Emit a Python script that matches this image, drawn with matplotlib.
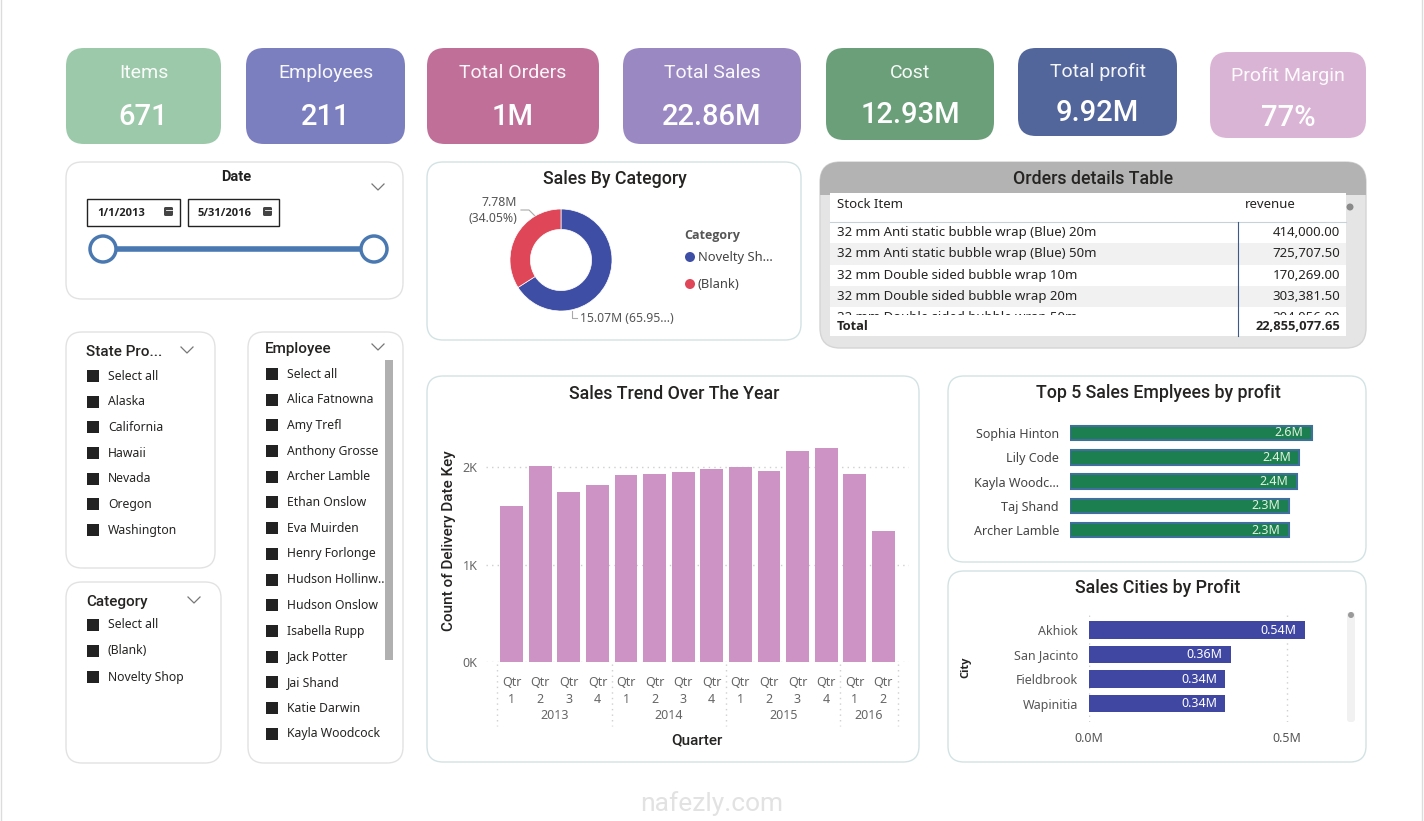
import matplotlib.pyplot as plt
from matplotlib.patches import FancyBboxPatch, Rectangle, Circle
from matplotlib.transforms import blended_transform_factory

W, H = 1424, 821

# ---- data ----
kpi_titles = ["Items", "Employees", "Total Orders", "Total Sales", "Cost", "Total profit", "Profit Margin"]
kpi_values = ["671", "211", "1M", "22.86M", "12.93M", "9.92M", "77%"]
kpi_colors = ["#9cc9aa", "#7c7fbf", "#c06f98", "#9a88c3", "#6b9f7a", "#52669c", "#dab4d5"]

category_names = ["Novelty Shop", "(Blank)"]
category_sales = [15.07, 7.78]  # millions

quarter_labels = ["Qtr\n1", "Qtr\n2", "Qtr\n3", "Qtr\n4"] * 3 + ["Qtr\n1", "Qtr\n2"]
quarter_years = [2013] * 4 + [2014] * 4 + [2015] * 4 + [2016] * 2
delivery_counts = [1600, 2010, 1745, 1820, 1915, 1925, 1945, 1975, 1995, 1960, 2160, 2200, 1925, 1340]

top_employees = ["Sophia Hinton", "Lily Code", "Kayla Woodc...", "Taj Shand", "Archer Lamble"]
employee_profit = [2.56, 2.43, 2.40, 2.32, 2.32]  # millions

cities = ["Akhiok", "San Jacinto", "Fieldbrook", "Wapinitia"]
city_profit = [0.544, 0.357, 0.344, 0.344]  # millions

stock_items = ["32 mm Anti static bubble wrap (Blue) 20m",
               "32 mm Anti static bubble wrap (Blue) 50m",
               "32 mm Double sided bubble wrap 10m",
               "32 mm Double sided bubble wrap 20m",
               "32 mm Double sided bubble wrap 50m"]
revenue = [414000.00, 725707.50, 170269.00, 303381.50, 304056.00]
revenue_total = 22855077.65

states = ["Select all", "Alaska", "California", "Hawaii", "Nevada", "Oregon", "Washington"]
employees = ["Select all", "Alica Fatnowna", "Amy Trefl", "Anthony Grosse", "Archer Lamble",
             "Ethan Onslow", "Eva Muirden", "Henry Forlonge", "Hudson Hollinw..", "Hudson Onslow",
             "Isabella Rupp", "Jack Potter", "Jai Shand", "Katie Darwin", "Kayla Woodcock"]
categories = ["Select all", "(Blank)", "Novelty Shop"]
date_range = ["1/1/2013", "5/31/2016"]

# ---- layout ----
kpi_boxes = [(66, 48, 221, 144), (246, 48, 405, 144), (427, 48, 599, 144), (623, 48, 801, 144),
             (826, 48, 994, 140), (1018, 48, 1177, 136), (1210, 52, 1366, 138)]

TITLE = "Roboto"
BODY = "Noto Sans"
BOLD = "Open Sans"
PANEL_EC = "#d3e2e2"
TSIZE = 12.8

fig = plt.figure(figsize=(W / 100, H / 100), dpi=100)
base = fig.add_axes([0, 0, 1, 1])
base.set_xlim(0, W)
base.set_ylim(H, 0)
base.axis("off")


def rbox(x0, y0, x1, y1, fc="white", ec=PANEL_EC, r=16, lw=1.0, z=1):
    p = FancyBboxPatch((x0, y0), x1 - x0, y1 - y0, boxstyle=f"round,pad=0,rounding_size={r}",
                       fc=fc, ec=ec, lw=lw, zorder=z)
    base.add_patch(p)
    return p


def px_axes(x0, y0, x1, y1):
    ax = fig.add_axes([x0 / W, 1 - y1 / H, (x1 - x0) / W, (y1 - y0) / H])
    ax.set_facecolor("none")
    return ax


def chevron(x, y):
    base.plot([x - 6, x, x + 6], [y - 3, y + 3, y - 3], color="#777777", lw=0.9, zorder=3)


# outer frame
base.add_patch(Rectangle((1, -5), W - 3, H + 10, fc="none", ec="#dcdcdc", lw=1))

# ---- KPI cards ----
for (x0, y0, x1, y1), t, v, c in zip(kpi_boxes, kpi_titles, kpi_values, kpi_colors):
    rbox(x0, y0, x1, y1, fc=c, ec="none", r=18)
    cx = (x0 + x1) / 2
    shrink = (144 - y1) * 0.5
    base.text(cx, y0 + 25 - shrink * 0.2, t, ha="center", va="center", color="white", fontsize=14,
              family=TITLE, alpha=0.95, zorder=3)
    base.text(cx, y0 + 69 - shrink, v, ha="center", va="center", color="white",
              fontsize=21, family=TITLE, weight="medium", zorder=3)

# ---- Date slicer ----
rbox(66, 162, 403, 299, ec="#e2e2e2")
base.text(236, 177, "Date", ha="center", va="center", fontsize=10.5, family=TITLE, weight="bold",
          color="#222222", zorder=3)
chevron(378, 187)
for (bx, bw), d in zip([(87, 93), (188, 91)], date_range):
    base.add_patch(Rectangle((bx, 199), bw, 27, fc="white", ec="#222222", lw=1, zorder=3))
    base.text(bx + 10, 213, d, ha="left", va="center", fontsize=8, family=BOLD, weight="bold",
              color="#222222", zorder=4)
    base.add_patch(FancyBboxPatch((bx + bw - 16, 207), 9, 9, boxstyle="round,pad=0,rounding_size=1.5",
                                  fc="#444444", ec="none", zorder=4))
    base.plot([bx + bw - 14.5, bx + bw - 8.5], [210, 210], color="white", lw=0.6, zorder=5)
base.plot([103, 374], [249, 249], color="#4a79b2", lw=4, zorder=3, solid_capstyle="butt")
for cx in (103, 374):
    base.add_patch(Circle((cx, 249), 13, fc="white", ec="#4a79b2", lw=2.5, zorder=4))


# ---- list slicers ----
def slicer(x0, y0, x1, y1, title, items, ty, iy0, step, chev_x, box_dx=21, scroll=None):
    rbox(x0, y0, x1, y1, ec="#e2e2e2")
    base.text(x0 + box_dx - 1, ty, title, ha="left", va="center", fontsize=11, family=TITLE,
              weight="medium", color="#252423", zorder=3)
    chevron(chev_x, ty - 2)
    for i, name in enumerate(items):
        y = iy0 + step * i
        base.add_patch(Rectangle((x0 + box_dx, y - 6), 12, 12, fc="#222222", ec="none", zorder=3))
        base.text(x0 + box_dx + 21, y, name, ha="left", va="center", fontsize=8.8, family=BODY,
                  color="#252423", zorder=3)
    if scroll:
        base.add_patch(Rectangle((scroll[0], scroll[1]), 8, scroll[2] - scroll[1], fc="#b0b0b0",
                                 ec="none", zorder=4))


slicer(66, 332, 215, 568, "State Pro...", states, 352, 376, 25.7, 187)
slicer(248, 332, 403, 763, "Employee", employees, 349, 374, 25.7, 378, box_dx=18,
       scroll=(385, 360, 660))
slicer(66, 582, 221, 763, "Category", categories, 602, 625, 26, 194)

# ---- Sales by category (donut) ----
rbox(427, 162, 801, 340)
base.text(615, 179, "Sales By Category", ha="center", va="center", fontsize=TSIZE, family=TITLE,
          weight="medium", color="#252423", zorder=3)
donut_colors = ["#3f4ea5", "#df4657"]
ax_d = px_axes(510, 209, 612, 311)
ax_d.pie(category_sales, colors=donut_colors, startangle=90, counterclock=False, radius=1,
         wedgeprops=dict(width=0.4, edgecolor="white", linewidth=0.5))
ax_d.set_xlim(-1, 1)
ax_d.set_ylim(-1, 1)
ax_d.set_aspect("equal")
ax_d.axis("off")
total_sales = sum(category_sales)
blank_lbl = f"{category_sales[1]:.2f}M\n({category_sales[1] / total_sales * 100:.2f}%)"
nov_lbl = f"{category_sales[0]:.2f}M ({category_sales[0] / total_sales * 100:.2f}%)"
nov_lbl = nov_lbl[:-2] + "...)"
base.text(517, 211, blank_lbl, ha="right", va="center", fontsize=8.8, family=BODY,
          color="#555555", linespacing=1.3, zorder=3)
base.plot([521, 529, 535], [210, 210, 216], color="#aaaaaa", lw=0.8, zorder=3)
base.text(580, 318, nov_lbl, ha="left", va="center", fontsize=8.8, family=BODY,
          color="#555555", zorder=3)
base.plot([572, 572, 577], [311, 318, 318], color="#aaaaaa", lw=0.8, zorder=3)
base.text(684, 235, "Category", ha="left", va="center", fontsize=9, family=BOLD, weight="bold",
          color="#555555", zorder=3)
for i, (name, c) in enumerate(zip(["Novelty Sh...", "(Blank)"], donut_colors)):
    y = 257 + 27 * i
    base.add_patch(Circle((690, y), 5, fc=c, ec="none", zorder=3))
    base.text(698, y, name, ha="left", va="center", fontsize=9.3, family=BODY, color="#444444", zorder=3)

# ---- Orders details table ----
outer = rbox(820, 162, 1366, 348, fc="#e5e5e5", ec="#d5d5d5", r=20)
hdr = Rectangle((820, 160), 546, 35, fc="#b3b3b3", ec="none", zorder=1.5)
base.add_patch(hdr)
hdr.set_clip_path(outer)
base.text(1093, 179, "Orders details Table", ha="center", va="center", fontsize=TSIZE, family=TITLE,
          weight="medium", color="#252423", zorder=3)
base.add_patch(Rectangle((830, 193), 516, 143, fc="white", ec="none", zorder=2))
base.text(837, 205, "Stock Item", ha="left", va="center", fontsize=9.5, family=BODY, color="#252423", zorder=3)
base.text(1245, 205, "revenue", ha="left", va="center", fontsize=9.5, family=BODY, color="#252423", zorder=3)
base.plot([830, 1346], [222, 222], color="#c8d0d8", lw=0.8, zorder=3)
row_h = 21.3
for i, (item, rev) in enumerate(zip(stock_items, revenue)):
    top = 222 + row_h * i
    if i % 2 == 1:
        base.add_patch(Rectangle((830, top), 516, row_h, fc="#f1f1f1", ec="none", zorder=2.5))
    base.text(837, top + row_h / 2, item, ha="left", va="center", fontsize=9.5, family=BODY,
              color="#252423", zorder=3)
    base.text(1340, top + row_h / 2, f"{rev:,.2f}", ha="right", va="center", fontsize=9.5, family=BODY,
              color="#252423", zorder=3)
base.add_patch(Rectangle((830, 315), 516, 21, fc="white", ec="none", zorder=4))
base.text(837, 326, "Total", ha="left", va="center", fontsize=9.3, family=BOLD, weight="bold",
          color="#252423", zorder=5)
base.text(1340, 326, f"{revenue_total:,.2f}", ha="right", va="center", fontsize=9.3, family=BOLD,
          weight="bold", color="#252423", zorder=5)
base.plot([1238, 1238], [222, 336], color="#3d5a86", lw=0.8, zorder=6)
base.add_patch(Circle((1350, 207), 3.5, fc="#8a8a8a", ec="none", zorder=3))

# ---- Sales trend bar chart ----
rbox(427, 376, 919, 762)
base.text(674, 394, "Sales Trend Over The Year", ha="center", va="center", fontsize=TSIZE, family=TITLE,
          weight="medium", color="#252423", zorder=3)
ax_b = px_axes(486, 440, 909, 662)
xs = list(range(len(delivery_counts)))
ax_b.bar(xs, delivery_counts, width=0.8, color="#cc93c4", zorder=2)
ax_b.set_xlim(-0.9, len(xs) - 0.1)
ax_b.set_ylim(0, 2277)
ax_b.set_yticks([0, 1000, 2000])
ax_b.set_yticklabels(["0K", "1K", "2K"])
ax_b.set_xticks(xs)
ax_b.set_xticklabels(quarter_labels, linespacing=1.4)
ax_b.tick_params(axis="both", length=0, labelsize=9, labelcolor="#666666")
ax_b.tick_params(axis="x", pad=10)
ax_b.tick_params(axis="y", pad=6)
for lab in ax_b.get_xticklabels() + ax_b.get_yticklabels():
    lab.set_family(BODY)
ax_b.grid(axis="y", color="#cfcfcf", linestyle=(0, (1, 3)), lw=1, zorder=0)
for s in ax_b.spines.values():
    s.set_visible(False)
tr = blended_transform_factory(ax_b.transData, ax_b.transAxes)
years = sorted(set(quarter_years))
for yr in years:
    idx = [i for i, q in enumerate(quarter_years) if q == yr]
    ax_b.text(sum(idx) / len(idx), -0.24, str(yr), transform=tr, ha="center", va="center",
              fontsize=9, family=BODY, color="#666666")
bounds = [-0.5] + [max(i for i, q in enumerate(quarter_years) if q == yr) + 0.5 for yr in years]
for b in bounds:
    ax_b.plot([b, b], [-0.01, -0.29], transform=tr, color="#cfcfcf", linestyle=(0, (1, 3)),
              lw=1, clip_on=False)
ax_b.text(-0.087, 0.545, "Count of Delivery Date Key", transform=ax_b.transAxes, rotation=90,
          ha="center", va="center", fontsize=11, family=TITLE, weight="medium", color="#252423")
ax_b.text(0.499, -0.351, "Quarter", transform=ax_b.transAxes, ha="center", va="center",
          fontsize=11, family=TITLE, weight="medium", color="#252423")

# ---- Top 5 employees ----
rbox(948, 376, 1366, 562)
base.text(1158, 393, "Top 5 Sales Emplyees by profit", ha="center", va="center", fontsize=TSIZE,
          family=TITLE, weight="medium", color="#252423", zorder=3)
ax_e = px_axes(1070, 418, 1349, 545)
ys = list(range(len(top_employees)))
ax_e.barh(ys, employee_profit, height=0.6, color="#1b7f4f", edgecolor="#3f6f9d", lw=1.5)
ax_e.set_xlim(0, 2.955)
ax_e.set_ylim(4.61, -0.617)
ax_e.set_yticks(ys)
ax_e.set_yticklabels(top_employees)
ax_e.set_xticks([])
ax_e.tick_params(axis="y", length=0, pad=8, labelsize=9, labelcolor="#444444")
for lab in ax_e.get_yticklabels():
    lab.set_family(BODY)
for s in ax_e.spines.values():
    s.set_visible(False)
for y, v in zip(ys, employee_profit):
    ax_e.annotate(f"{v:.1f}M", (v, y), xytext=(-6, 0), textcoords="offset points", ha="right",
                  va="center", fontsize=9, family=BODY, color="#dff2df")

# ---- Sales cities ----
rbox(948, 571, 1366, 762)
base.text(1158, 588, "Sales Cities by Profit", ha="center", va="center", fontsize=TSIZE,
          family=TITLE, weight="medium", color="#252423", zorder=3)
ax_c = px_axes(1089, 612, 1340, 722)
yc = list(range(len(cities)))
ax_c.barh(yc, city_profit, height=0.72, color="#3f47a3", zorder=2)
ax_c.set_xlim(0, 0.633)
ax_c.set_ylim(3.755, -0.735)
ax_c.set_yticks(yc)
ax_c.set_yticklabels(cities)
ax_c.set_xticks([0, 0.5])
ax_c.set_xticklabels(["0.0M", "0.5M"])
ax_c.tick_params(axis="both", length=0, labelsize=9, labelcolor="#555555")
ax_c.tick_params(axis="y", pad=8)
ax_c.tick_params(axis="x", pad=7)
for lab in ax_c.get_xticklabels() + ax_c.get_yticklabels():
    lab.set_family(BODY)
ax_c.grid(axis="x", color="#cfcfcf", linestyle=(0, (1, 3)), lw=1, zorder=0)
for s in ax_c.spines.values():
    s.set_visible(False)
for y, v in zip(yc, city_profit):
    ax_c.annotate(f"{v:.2f}M", (v, y), xytext=(-6, 0), textcoords="offset points", ha="right",
                  va="center", fontsize=9, family=BODY, color="white", zorder=3)
base.text(966, 667, "City", rotation=90, ha="center", va="center", fontsize=8, family=BOLD,
          weight="bold", color="#252423", zorder=3)
base.add_patch(FancyBboxPatch((1347, 612), 8, 110, boxstyle="round,pad=0,rounding_size=3",
                              fc="#f1f1f1", ec="none", zorder=3))
base.add_patch(Circle((1351, 615), 3, fc="#9a9a9a", ec="none", zorder=4))

# watermark
base.text(712, 804, "nafezly.com", ha="center", va="center", fontsize=19, family=TITLE,
          color="#e2e2e2", zorder=10)

fig.savefig("out.png", dpi=100, facecolor="white")
